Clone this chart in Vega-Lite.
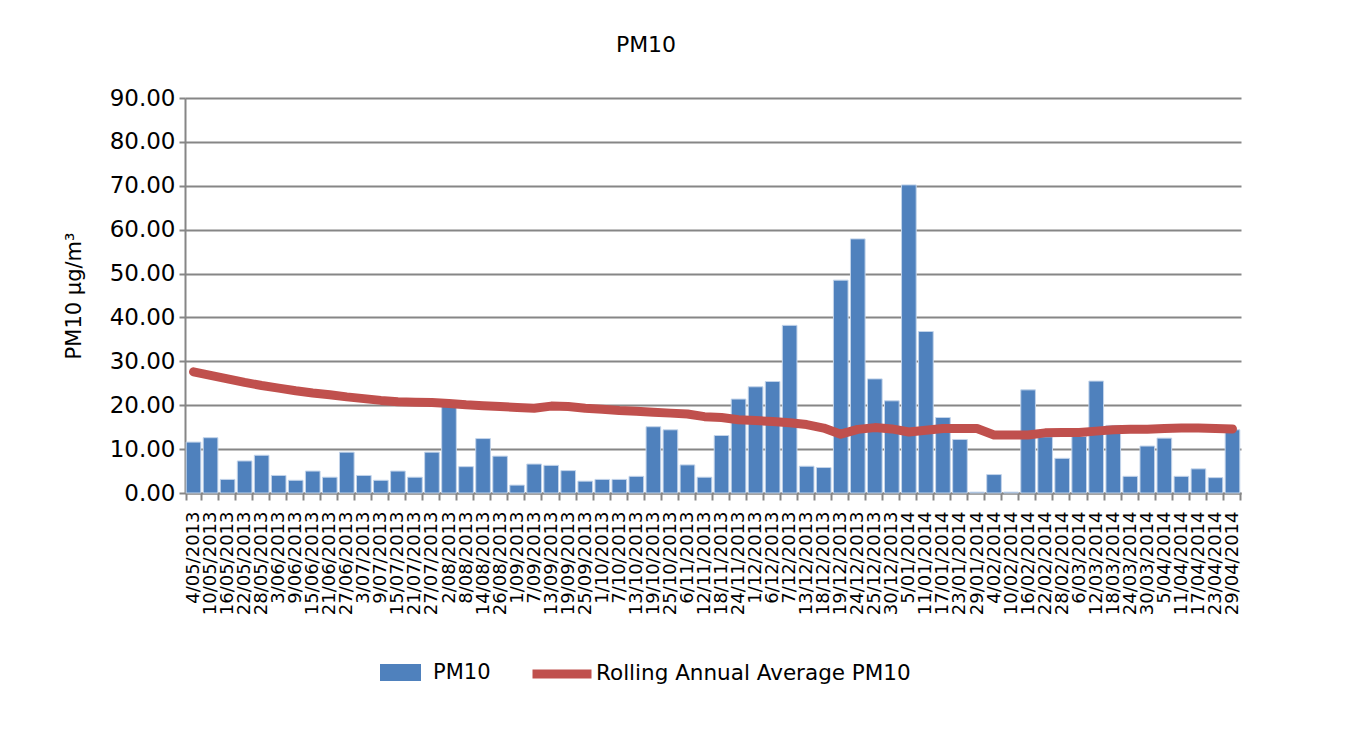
{
  "$schema": "https://vega.github.io/schema/vega-lite/v6.json",
  "autosize": "none",
  "width": 1056,
  "height": 395,
  "padding": {"left": 185, "top": 98, "right": 121, "bottom": 263},
  "background": "white",
  "config": {
    "view": {"stroke": null},
    "font": "DejaVu Sans"
  },
  "title": {
    "text": "PM10",
    "fontSize": 22,
    "fontWeight": "normal",
    "font": "DejaVu Sans",
    "color": "black",
    "anchor": "middle",
    "dx": -67,
    "offset": 30
  },
  "data": {
    "values": [
      {"date": "4/05/2013", "pm10": 11.6, "avg": 27.6},
      {"date": "10/05/2013", "pm10": 12.6, "avg": 26.8},
      {"date": "16/05/2013", "pm10": 3.1, "avg": 26.0},
      {"date": "22/05/2013", "pm10": 7.3, "avg": 25.2},
      {"date": "28/05/2013", "pm10": 8.6, "avg": 24.5},
      {"date": "3/06/2013", "pm10": 4.0, "avg": 23.9},
      {"date": "9/06/2013", "pm10": 2.9, "avg": 23.3},
      {"date": "15/06/2013", "pm10": 5.0, "avg": 22.8},
      {"date": "21/06/2013", "pm10": 3.6, "avg": 22.4},
      {"date": "27/06/2013", "pm10": 9.3, "avg": 21.9},
      {"date": "3/07/2013", "pm10": 4.0, "avg": 21.5},
      {"date": "9/07/2013", "pm10": 2.9, "avg": 21.1},
      {"date": "15/07/2013", "pm10": 5.0, "avg": 20.8},
      {"date": "21/07/2013", "pm10": 3.6, "avg": 20.7},
      {"date": "27/07/2013", "pm10": 9.3, "avg": 20.6},
      {"date": "2/08/2013", "pm10": 20.4, "avg": 20.4},
      {"date": "8/08/2013", "pm10": 6.0, "avg": 20.1},
      {"date": "14/08/2013", "pm10": 12.4, "avg": 19.9},
      {"date": "26/08/2013", "pm10": 8.4, "avg": 19.7},
      {"date": "1/09/2013", "pm10": 1.8, "avg": 19.5},
      {"date": "7/09/2013", "pm10": 6.6, "avg": 19.3},
      {"date": "13/09/2013", "pm10": 6.3, "avg": 19.8},
      {"date": "19/09/2013", "pm10": 5.1, "avg": 19.7},
      {"date": "25/09/2013", "pm10": 2.7, "avg": 19.3},
      {"date": "1/10/2013", "pm10": 3.1, "avg": 19.1},
      {"date": "7/10/2013", "pm10": 3.1, "avg": 18.8},
      {"date": "13/10/2013", "pm10": 3.8, "avg": 18.6},
      {"date": "19/10/2013", "pm10": 15.1, "avg": 18.4},
      {"date": "25/10/2013", "pm10": 14.4, "avg": 18.2},
      {"date": "6/11/2013", "pm10": 6.4, "avg": 18.0},
      {"date": "12/11/2013", "pm10": 3.6, "avg": 17.4},
      {"date": "18/11/2013", "pm10": 13.1, "avg": 17.2},
      {"date": "24/11/2013", "pm10": 21.4, "avg": 16.7},
      {"date": "1/12/2013", "pm10": 24.2, "avg": 16.5},
      {"date": "6/12/2013", "pm10": 25.4, "avg": 16.3},
      {"date": "7/12/2013", "pm10": 38.2, "avg": 16.0},
      {"date": "13/12/2013", "pm10": 6.1, "avg": 15.6},
      {"date": "18/12/2013", "pm10": 5.8, "avg": 14.8},
      {"date": "19/12/2013", "pm10": 48.5, "avg": 13.4},
      {"date": "24/12/2013", "pm10": 57.9, "avg": 14.5},
      {"date": "25/12/2013", "pm10": 26.0, "avg": 14.9},
      {"date": "30/12/2013", "pm10": 21.0, "avg": 14.6},
      {"date": "5/01/2014", "pm10": 70.2, "avg": 13.9},
      {"date": "11/01/2014", "pm10": 36.8, "avg": 14.3},
      {"date": "17/01/2014", "pm10": 17.2, "avg": 14.7},
      {"date": "23/01/2014", "pm10": 12.2, "avg": 14.7},
      {"date": "29/01/2014", "pm10": 0.2, "avg": 14.7},
      {"date": "4/02/2014", "pm10": 4.2, "avg": 13.2},
      {"date": "10/02/2014", "pm10": 0.2, "avg": 13.2},
      {"date": "16/02/2014", "pm10": 23.5, "avg": 13.2},
      {"date": "22/02/2014", "pm10": 12.8, "avg": 13.7},
      {"date": "28/02/2014", "pm10": 7.9, "avg": 13.8},
      {"date": "6/03/2014", "pm10": 12.9, "avg": 13.8},
      {"date": "12/03/2014", "pm10": 25.5, "avg": 14.1},
      {"date": "18/03/2014", "pm10": 15.4, "avg": 14.4},
      {"date": "24/03/2014", "pm10": 3.8, "avg": 14.5},
      {"date": "30/03/2014", "pm10": 10.7, "avg": 14.5},
      {"date": "5/04/2014", "pm10": 12.5, "avg": 14.7},
      {"date": "11/04/2014", "pm10": 3.8, "avg": 14.8},
      {"date": "17/04/2014", "pm10": 5.5, "avg": 14.8},
      {"date": "23/04/2014", "pm10": 3.5, "avg": 14.7},
      {"date": "29/04/2014", "pm10": 14.4, "avg": 14.6}
    ]
  },
  "encoding": {
    "x": {
      "field": "date",
      "type": "ordinal",
      "sort": null,
      "scale": {"paddingInner": 0.14, "paddingOuter": 0.07},
      "axis": {
        "title": null,
        "labelAngle": -90,
        "labelFontSize": 18,
        "labelColor": "black",
        "labelPadding": 11,
        "labelLimit": 0,
        "tickBand": "extent",
        "tickSize": 7,
        "tickColor": "#868686",
        "tickWidth": 2,
        "domainColor": "#868686",
        "domainWidth": 2,
        "grid": false
      }
    }
  },
  "layer": [
    {
      "mark": {"type": "bar", "stroke": "#c3d4ea", "strokeWidth": 1},
      "encoding": {
        "y": {
          "field": "pm10",
          "type": "quantitative",
          "scale": {"domain": [0, 90], "nice": false},
          "axis": {
            "title": "PM10 µg/m³",
            "titleFontSize": 21,
            "titleFontWeight": "normal",
            "titleColor": "black",
            "titlePadding": 25,
            "values": [0, 10, 20, 30, 40, 50, 60, 70, 80, 90],
            "format": ".2f",
            "labelFontSize": 23,
            "labelColor": "black",
            "labelPadding": 4,
            "tickSize": 6,
            "tickColor": "#868686",
            "tickWidth": 2,
            "domainColor": "#868686",
            "domainWidth": 2,
            "gridColor": "#868686",
            "gridWidth": 2
          }
        },
        "fill": {
          "datum": "PM10",
          "type": "nominal",
          "scale": {"range": ["#4F81BD"]},
          "legend": {
            "title": null,
            "orient": "none",
            "legendX": 195,
            "legendY": 554,
            "labelFontSize": 21,
            "labelColor": "black",
            "labelLimit": 0,
            "symbolType": "M-1,-0.415H1V0.415H-1Z",
            "symbolSize": 1681,
            "symbolStrokeWidth": 0,
            "labelOffset": 12,
            "padding": 0
          }
        }
      }
    },
    {
      "mark": {"type": "line", "strokeWidth": 9, "strokeCap": "round", "strokeJoin": "round"},
      "encoding": {
        "y": {"field": "avg", "type": "quantitative"},
        "stroke": {
          "datum": "Rolling Annual Average PM10",
          "type": "nominal",
          "scale": {"range": ["#C0504D"]},
          "legend": {
            "title": null,
            "orient": "none",
            "legendX": 343,
            "legendY": 542,
            "labelFontSize": 21.5,
            "labelColor": "black",
            "labelLimit": 0,
            "symbolType": "stroke",
            "symbolSize": 3481,
            "symbolStrokeWidth": 9,
            "labelOffset": 0,
            "padding": 0
          }
        }
      }
    }
  ]
}
